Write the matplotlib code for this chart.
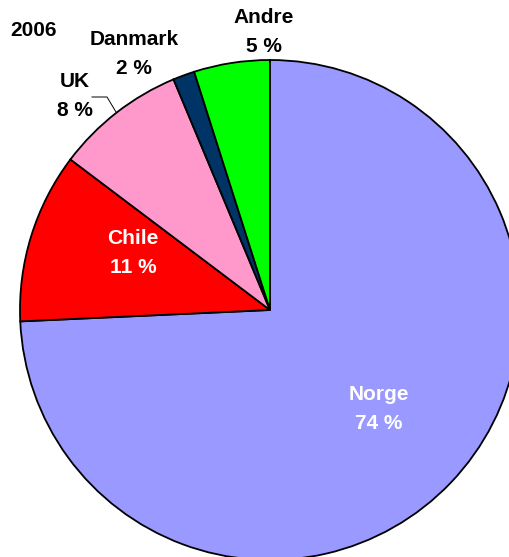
import matplotlib.pyplot as plt

countries = ["Norge", "Chile", "UK", "Danmark", "Andre"]
shares = [74.2, 11.0, 8.4, 1.4, 4.9]
shown_pct = [74, 11, 8, 2, 5]
colors = ["#9999FF", "#FF0000", "#FF99CC", "#003366", "#00FF00"]
year = "2006"

W, H = 509, 557
fig = plt.figure(figsize=(W / 100, H / 100), dpi=100)
ax = fig.add_axes([0, 0, 1, 1])

ax.pie(shares, colors=colors, startangle=90, counterclock=False,
       center=(270, H - 310), radius=250, frame=True,
       wedgeprops=dict(edgecolor="black", linewidth=1.3))
ax.set_xlim(0, W)
ax.set_ylim(0, H)
ax.set_aspect("equal")
ax.axis("off")

plt.rcParams["font.family"] = ["Liberation Sans", "DejaVu Sans"]
font = dict(fontsize=15, fontweight="bold", ha="center", va="center",
            linespacing=1.7)

# label positions (pixel coords from top-left)
label_pos = {"Norge": (379, 409), "Chile": (133, 253), "UK": (75, 96),
             "Danmark": (134, 54), "Andre": (264, 32)}
white = {"Norge", "Chile"}
for name, pct in zip(countries, shown_pct):
    x, y = label_pos[name]
    ax.text(x, H - y, f"{name}\n{pct} %",
            color="white" if name in white else "black", **font)

# leader line for UK
ax.plot([92, 107, 116], [H - 97, H - 97, H - 112], color="black", lw=0.7)

ax.text(10, H - 31, year, fontsize=15, fontweight="bold", ha="left", va="center")

plt.savefig("out.png", dpi=100)
